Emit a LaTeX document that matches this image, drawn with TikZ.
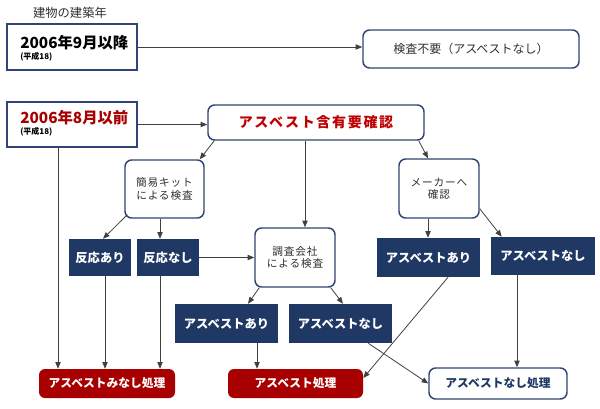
\documentclass[tikz,border=0pt]{standalone}
\usepackage{fontspec}
\setmainfont{Noto Sans CJK JP}
\usetikzlibrary{arrows.meta}

\definecolor{navy}{HTML}{1F3864}
\definecolor{framenavy}{HTML}{2F4573}
\definecolor{darkred}{HTML}{A80000}
\definecolor{checkred}{HTML}{C00000}
\definecolor{textgray}{HTML}{303030}
\definecolor{linegray}{HTML}{404040}
\newcommand{\pxu}{0.75pt}

\tikzset{
  framebox/.style={draw=framenavy, line width=1.1pt, fill=white, inner sep=0pt},
  roundbox/.style={framebox, rounded corners=5pt},
  darkbox/.style={fill=navy, text=white, inner sep=0pt, font=\bfseries\fontsize{9.2}{11}\selectfont},
  redbox/.style={fill=darkred, text=white, inner sep=0pt, rounded corners=4.5pt, font=\bfseries\fontsize{8.8}{10}\selectfont},
  caption/.style={anchor=west, inner sep=0pt},
  small/.style={text=textgray, align=center, font=\fontsize{8}{9.4}\selectfont\addfontfeatures{LetterSpace=8}},
  arr/.style={draw=linegray, line width=0.6pt, -{Triangle[length=5pt,width=4pt]}}
}

\begin{document}
\begin{tikzpicture}[x=0.75pt, y=-0.75pt]
\useasboundingbox (0,0) rectangle (600,408);

\node[text=textgray, inner sep=0pt, font=\fontsize{9.2}{11}\selectfont] (title) at (70,13) {建物の建築年};

\node[framebox, minimum width=130*\pxu, minimum height=46*\pxu] (after) at (72,47) {};
\node[caption, font=\bfseries\fontsize{11.5}{13}\selectfont] (afterYear) at (20,43) {2006年9月以降};
\node[caption, font=\bfseries\fontsize{6}{7}\selectfont] (afterEra) at (20,57) {(平成18)};

\node[roundbox, minimum width=216*\pxu, minimum height=38*\pxu, text=textgray, font=\fontsize{9}{11}\selectfont] (none) at (471,49) {検査不要（アスベストなし）};

\node[framebox, minimum width=130*\pxu, minimum height=45*\pxu] (before) at (72,124.5) {};
\node[caption, text=darkred, font=\bfseries\fontsize{11.5}{13}\selectfont] (beforeYear) at (20,118) {2006年8月以前};
\node[caption, font=\bfseries\fontsize{6}{7}\selectfont] (beforeEra) at (20,132) {(平成18)};

\node[roundbox, minimum width=216*\pxu, minimum height=35*\pxu, text=checkred, font=\bfseries\fontsize{10.5}{12}\selectfont\addfontfeatures{LetterSpace=12}] (check) at (316,122.5) {アスベスト含有要確認};

\node[roundbox, small, minimum width=79*\pxu, minimum height=58*\pxu] (kit) at (164.5,189) {簡易キット\\による検査};
\node[roundbox, small, minimum width=80*\pxu, minimum height=59*\pxu] (maker) at (439,188.5) {メーカーへ\\確認};
\node[roundbox, small, minimum width=80*\pxu, minimum height=59*\pxu] (survey) at (295,257.5) {調査会社\\による検査};

\node[darkbox, minimum width=62*\pxu, minimum height=37*\pxu] (kitYes) at (100,257.5) {反応あり};
\node[darkbox, minimum width=62*\pxu, minimum height=37*\pxu] (kitNo) at (168,257.5) {反応なし};
\node[darkbox, minimum width=103*\pxu, minimum height=39*\pxu] (makerYes) at (428.5,257.5) {アスベストあり};
\node[darkbox, minimum width=104*\pxu, minimum height=38*\pxu] (makerNo) at (543,256) {アスベストなし};
\node[darkbox, minimum width=103*\pxu, minimum height=39*\pxu] (surveyYes) at (226.5,323.5) {アスベストあり};
\node[darkbox, minimum width=103*\pxu, minimum height=39*\pxu] (surveyNo) at (340.5,323.5) {アスベストなし};

\node[redbox, minimum width=136*\pxu, minimum height=29*\pxu] (deemed) at (107,383.5) {アスベストみなし処理};
\node[redbox, minimum width=135*\pxu, minimum height=29*\pxu] (removal) at (295.5,383.5) {アスベスト処理};
\node[roundbox, text=navy, minimum width=138*\pxu, minimum height=31*\pxu, font=\bfseries\fontsize{8.8}{10}\selectfont] (clear) at (498,383.5) {アスベストなし処理};

\draw[arr] (after.east) -- (after.east -| none.west);
\draw[arr] (before.east) -- (before.east -| check.west);
\draw[arr] ([xshift=-14*\pxu]before.south) -- ([xshift=-49*\pxu]deemed.north);

\draw[arr] ([xshift=7*\pxu]check.south west) -- ([xshift=-5*\pxu]kit.north east);
\draw[arr] ([xshift=-11*\pxu]check.south) -- ([xshift=10*\pxu]survey.north);
\draw[arr] ([xshift=-6*\pxu]check.south east) -- ([xshift=-11*\pxu]maker.north);

\draw[arr] ([shift={(3,-4)}]kit.south west) -- ([xshift=3*\pxu]kitYes.north);
\draw[arr] ([xshift=-4.5*\pxu]kit.south) -- ([xshift=-8*\pxu]kitNo.north);
\draw[arr] (kitNo.east) -- (survey.west);
\draw[arr] ([xshift=5*\pxu]kitYes.south) -- ([xshift=-2*\pxu]deemed.north);
\draw[arr] ([xshift=-8*\pxu]kitNo.south) -- ([xshift=53*\pxu]deemed.north);

\draw[arr] ([xshift=-11*\pxu]maker.south) -- ([xshift=-0.5*\pxu]makerYes.north);
\draw[arr] ([shift={(0,-10)}]maker.south east) -- ([xshift=11*\pxu]makerNo.north west);

\draw[arr] ([xshift=5*\pxu]survey.south west) -- ([xshift=21.5*\pxu]surveyYes.north);
\draw[arr] ([xshift=-5*\pxu]survey.south east) -- ([xshift=2.5*\pxu]surveyNo.north);

\draw[arr] ([xshift=30.5*\pxu]surveyYes.south) -- ([xshift=-38.5*\pxu]removal.north);
\draw[arr] ([xshift=19.5*\pxu]makerYes.south) -- ([yshift=5.5*\pxu]removal.east);
\draw[arr] ([xshift=-24*\pxu]surveyNo.south east) -- (clear.west);
\draw[arr] ([xshift=-26*\pxu]makerNo.south) -- ([xshift=19*\pxu]clear.north);
\end{tikzpicture}
\end{document}
